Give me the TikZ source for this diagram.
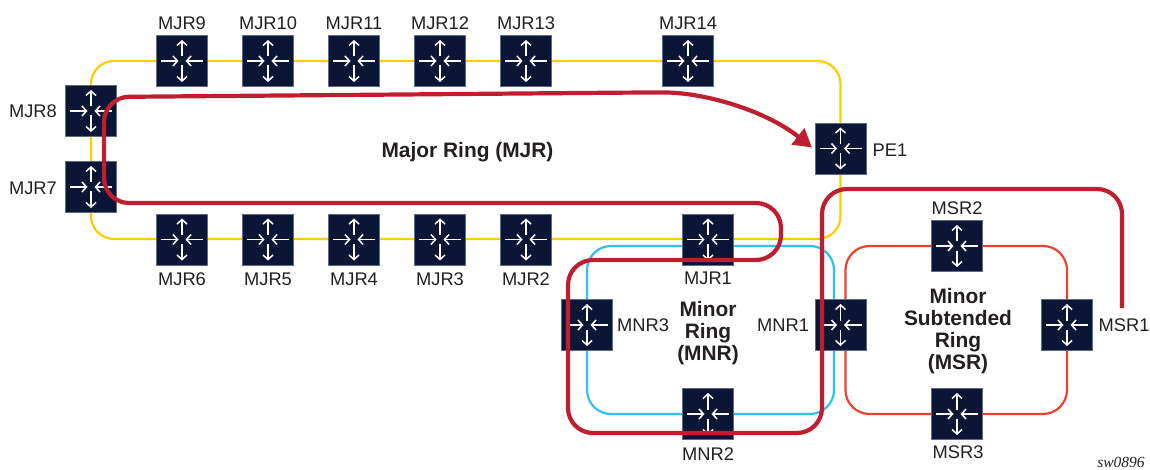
\documentclass[tikz,border=0pt]{standalone}
\usepackage{fontspec}
\setmainfont{Liberation Sans}
\newfontfamily\tagfont{Liberation Serif}
\usetikzlibrary{arrows.meta,calc}
\definecolor{swnavy}{HTML}{0B1636}
\definecolor{swedge}{HTML}{5F6A85}
\definecolor{ringyellow}{HTML}{FFCC00}
\definecolor{ringblue}{HTML}{33BFF0}
\definecolor{ringred}{HTML}{E8432F}
\definecolor{pathred}{HTML}{BE1E2D}
\definecolor{inktext}{HTML}{231F20}
\tikzset{
  swbox/.style={draw=swedge,line width=0.6pt,fill=swnavy,minimum size=51pt,inner sep=0pt,outer sep=0pt},
  swarrow/.style={draw=white,line width=1.5pt,-{Straight Barb[length=4.5pt,width=10pt,line width=1.5pt]}},
  ring/.style={line width=2.2pt,rounded corners=24pt},
  lbl/.style={font=\fontsize{18.3}{20}\selectfont,text=inktext,inner sep=0pt},
  ttl/.style={font=\fontsize{20.9}{21.8}\selectfont\bfseries,text=inktext,align=center,inner sep=0pt},
  traffic/.style={draw=pathred,line width=4.2pt,rounded corners=25pt},
}
\newcommand{\swnode}[3]{%
  \node[swbox] (#1) at (#2,#3) {};
  \begin{scope}[shift={(#2,#3)}]
    \draw[swarrow] (0,-4.5) -- (0,-21);
    \draw[swarrow] (0,4.5) -- (0,21);
    \draw[swarrow] (-21,0) -- (-3.5,0);
    \draw[swarrow] (21,0) -- (3.5,0);
  \end{scope}}
\begin{document}
\begin{tikzpicture}[x=1pt,y=-1pt]
\useasboundingbox (0,0) rectangle (1150,470);
% placement helpers for the ring geometry
\coordinate (mjr9c) at (182,61);
\coordinate (mjr14c) at (688,61);
\coordinate (pe1c) at (840.5,148.5);
\coordinate (mjr1c) at (708,239);
\coordinate (mjr6c) at (182,239);
\coordinate (mjr7c) at (91,187);
\coordinate (mjr8c) at (91,111);
\coordinate (bluetl) at (587,246);
\coordinate (bluetr) at (834,246);
\coordinate (bluebr) at (834,414);
\coordinate (bluebl) at (587,414);
\coordinate (msrtl) at (845.5,246);
\coordinate (msrtr) at (1067,246);
\coordinate (msrbr) at (1067,414);
\coordinate (msrbl) at (845.5,414);
% rings
\draw[ring,ringyellow,rounded corners=23pt] (mjr9c) -| (pe1c) |- (mjr1c) -- (mjr6c) -| (mjr7c) -- (mjr8c) |- (mjr9c);
\draw[ring,ringblue] ($(bluetl)!0.5!(bluebl)$) -- (bluetl) -- (bluetr) -- (bluebr) -- (bluebl) -- ($(bluetl)!0.5!(bluebl)$);
\draw[ring,ringred] ($(msrtl)!0.5!(msrbl)$) -- (msrtl) -- (msrtr) -- (msrbr) -- (msrbl) -- ($(msrtl)!0.5!(msrbl)$);
% switches
\swnode{mjr9}{182}{61}
\swnode{mjr10}{268}{61}
\swnode{mjr11}{354}{61}
\swnode{mjr12}{440}{61}
\swnode{mjr13}{526}{61}
\swnode{mjr14}{688}{61}
\swnode{mjr8}{91}{111}
\swnode{mjr7}{91}{187}
\swnode{mjr6}{182}{239.5}
\swnode{mjr5}{268}{239.5}
\swnode{mjr4}{354}{239.5}
\swnode{mjr3}{440}{239.5}
\swnode{mjr2}{526}{239.5}
\swnode{mjr1}{708}{239.5}
\swnode{pe1}{840.5}{148.5}
\swnode{mnr3}{587}{325}
\swnode{mnr2}{708}{414}
\swnode{mnr1}{840.5}{325}
\swnode{msr2}{957}{246}
\swnode{msr1}{1067}{325}
\swnode{msr3}{957}{414}
% labels
\node[lbl] (tmjr9) at (182,23) {MJR9};
\node[lbl] (tmjr10) at (268,23) {MJR10};
\node[lbl] (tmjr11) at (354,23) {MJR11};
\node[lbl] (tmjr12) at (440,23) {MJR12};
\node[lbl] (tmjr13) at (526,23) {MJR13};
\node[lbl] (tmjr14) at (688,23) {MJR14};
\node[lbl] (tmjr8) at (33,111) {MJR8};
\node[lbl] (tmjr7) at (33,188) {MJR7};
\node[lbl] (tmjr6) at (182,279) {MJR6};
\node[lbl] (tmjr5) at (268,279) {MJR5};
\node[lbl] (tmjr4) at (354,279) {MJR4};
\node[lbl] (tmjr3) at (440,279) {MJR3};
\node[lbl] (tmjr2) at (526,279) {MJR2};
\node[lbl] (tmjr1) at (708,278) {MJR1};
\node[lbl] (tpe1) at (890,150) {PE1};
\node[lbl] (tmnr3) at (643,325) {MNR3};
\node[lbl] (tmnr1) at (783,325) {MNR1};
\node[lbl] (tmnr2) at (708,454) {MNR2};
\node[lbl] (tmsr2) at (957,208) {MSR2};
\node[lbl] (tmsr1) at (1124,325) {MSR1};
\node[lbl] (tmsr3) at (958,452) {MSR3};
\node[ttl] (tmajor) at (467.5,152) {Major Ring (MJR)};
\node[ttl] (tminor) at (708,333) {Minor\\Ring\\(MNR)};
\node[ttl] (tsub) at (958,331) {Minor\\Subtended\\Ring\\(MSR)};
\node[inner sep=0pt,text=inktext] (tag) at (1121,462.5) {\tagfont\itshape\fontsize{15.5}{17}\selectfont sw0896};
% traffic path
\coordinate (endmsr) at (1122,308);
\coordinate (c1) at (1122,189);
\coordinate (c2) at (822,189);
\coordinate (c3) at (822,433);
\coordinate (c4) at (568,433);
\coordinate (c5) at (568,260);
\coordinate (c6) at (781,260);
\coordinate (c7) at (781,203);
\coordinate (c8) at (104,203);
\coordinate (c9) at (104,97);
\coordinate (c10) at (640,92.5);
\coordinate (tip) at (812,147.5);
\draw[traffic,-{Triangle[length=18pt,width=20pt]}] (endmsr) -- (c1) -- (c2) -- (c3) -- (c4) -- (c5) -- (c6) -- (c7) -- (c8) -- (c9) -- (c10) .. controls (700,92.5) and (762,108) .. (tip);
\end{tikzpicture}
\end{document}
